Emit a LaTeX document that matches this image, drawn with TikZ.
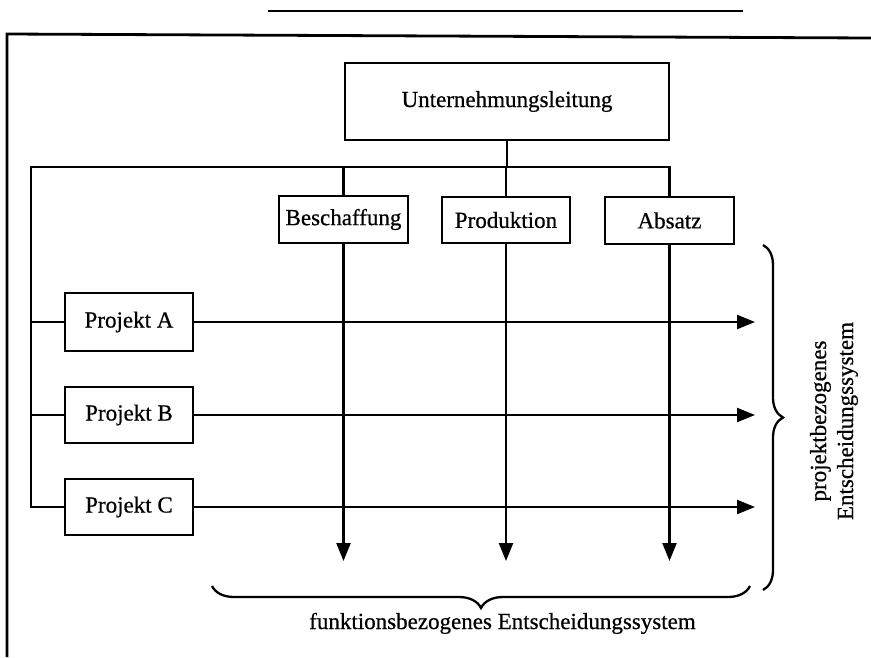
\documentclass[tikz,border=0pt]{standalone}
\usepackage{fontspec}
\setmainfont{Liberation Serif}[FakeBold=0.6]
\usetikzlibrary{arrows.meta,decorations.pathreplacing}
\begin{document}
\begin{tikzpicture}[x=1pt,y=-1pt,line width=2.3pt,
  lbl/.style={font=\fontsize{23}{27}\selectfont},
  box/.style={draw,line width=2.1pt,inner sep=0pt,lbl},
  arr/.style={-{Triangle[length=18pt,width=14pt]},line width=2.3pt},
  mybrace/.style={decorate,decoration={brace,amplitude=#1},line width=2.3pt}]
\useasboundingbox (0,0) rectangle (871,657);
% scan frame
\draw[line width=1.6pt] (268,11) -- (743,11);
\draw[line width=2.8pt] (7,657) -- (7,34) -- (871,38);
% boxes
\node[box,minimum width=324pt,minimum height=77pt] (ul) at (507,101.5) {Unternehmungsleitung};
\node[box,minimum width=129pt,minimum height=47pt] (bes) at (343.5,219.5) {Beschaffung};
\node[box,minimum width=128pt,minimum height=46pt] (pro) at (506,220) {Produktion};
\node[box,minimum width=129pt,minimum height=47pt] (abs) at (669.5,220.5) {Absatz};
\node[box,minimum width=128pt,minimum height=58pt] (pa) at (129,322) {Projekt A};
\node[box,minimum width=128pt,minimum height=56pt] (pb) at (129,415) {Projekt B};
\node[box,minimum width=128pt,minimum height=56pt] (pc) at (129,507) {Projekt C};
% helper coordinates
\coordinate (busL) at (31,167);
\coordinate (vend) at (0,561);
\coordinate (hend) at (755,0);
% tree lines
\draw (pc.west) -| (busL) -| (abs.north);
\draw (ul.south) -- (ul.south |- busL);
\draw (bes.north) -- (bes.north |- busL);
\draw (pro.north) -- (pro.north |- busL);
\draw (pa.west) -- (pa.west -| busL);
\draw (pb.west) -- (pb.west -| busL);
% arrows
\draw[arr] (bes.south) -- (bes.south |- vend);
\draw[arr] (pro.south) -- (pro.south |- vend);
\draw[arr] (abs.south) -- (abs.south |- vend);
\draw[arr] (pa.east) -- (pa.east -| hend);
\draw[arr] (pb.east) -- (pb.east -| hend);
\draw[arr] (pc.east) -- (pc.east -| hend);
% braces
\coordinate (bb1) at (750,586);
\coordinate (bb2) at (212,586);
\draw[mybrace=22pt] (bb1) -- (bb2);
\coordinate (rb1) at (763,245);
\coordinate (rb2) at (763,590);
\draw[mybrace=20pt] (rb1) -- (rb2);
% labels
\node[lbl,anchor=base] (fl) at (502.5,629) {funktionsbezogenes Entscheidungssystem};
\node[lbl,rotate=90,align=center] (pl) at (834,421) {projektbezogenes\\Entscheidungssystem};
\end{tikzpicture}
\end{document}
